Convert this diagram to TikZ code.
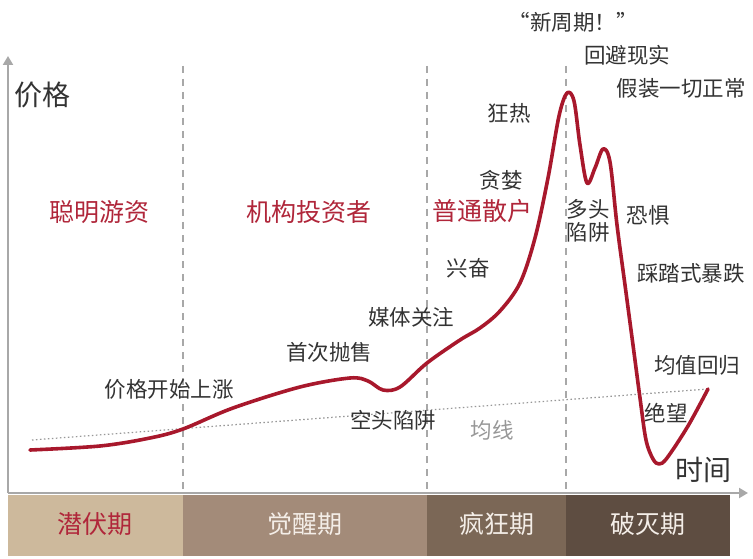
\documentclass[tikz,border=0pt]{standalone}
\usepackage{fontspec}
\setmainfont{Noto Sans CJK SC}
\usetikzlibrary{arrows.meta}
\definecolor{curvered}{HTML}{A8182C}
\definecolor{labred}{HTML}{B0263A}
\definecolor{txt}{HTML}{333333}
\definecolor{axisgray}{HTML}{A8A8A8}
\definecolor{bandA}{HTML}{CDB99C}
\definecolor{bandB}{HTML}{A38B79}
\definecolor{bandC}{HTML}{7B6756}
\definecolor{bandD}{HTML}{5E4D41}
\definecolor{bandtxt}{HTML}{F4EEE8}
\tikzset{
  lab/.style={text=txt, font=\fontsize{21.5}{23.5}\selectfont, inner sep=0pt},
  redlab/.style={text=labred, font=\fontsize{25}{27}\selectfont, inner sep=0pt},
  axislab/.style={text=txt, font=\fontsize{28}{30}\selectfont, inner sep=0pt},
  bandlab/.style={text=bandtxt, font=\fontsize{25}{27}\selectfont, inner sep=0pt},
  phase/.style={draw=axisgray, line width=1.2pt, dash pattern=on 7pt off 6pt},
  axisline/.style={draw=axisgray, line width=2pt, -{Triangle[width=10pt,length=9pt]}},
}
\begin{document}
\begin{tikzpicture}[x=1pt,y=-1pt]
\useasboundingbox (0,0) rectangle (753,559);
\fill[white] (0,0) rectangle (753,559);
% bands
\fill[bandA] (8,495) rectangle (183,556);
\fill[bandB] (183,495) rectangle (427,556);
\fill[bandC] (427,495) rectangle (566,556);
\fill[bandD] (566,495) rectangle (730,556);
\node[bandlab, text=labred] (p1) at (95,524) {潜伏期};
\node[bandlab] (p2) at (305,524) {觉醒期};
\node[bandlab] (p3) at (497,524) {疯狂期};
\node[bandlab] (p4) at (648,524) {破灭期};
% axes
\coordinate (o) at (8,493);
\coordinate (ytop) at (8,56);
\coordinate (xend) at (748,493);
\draw[axisline] (o) -- (ytop);
\draw[axisline] (o) -- (xend);
% phase dividers
\coordinate (d1t) at (183,66); \coordinate (d1b) at (183,493);
\coordinate (d2t) at (427,66); \coordinate (d2b) at (427,493);
\coordinate (d3t) at (566,66); \coordinate (d3b) at (566,493);
\draw[phase] (d1t) -- (d1b);
\draw[phase] (d2t) -- (d2b);
\draw[phase] (d3t) -- (d3b);
% mean line
\coordinate (m1) at (32,440);
\coordinate (m2) at (708,389);
\draw[axisgray!90!black, line width=1.2pt, dash pattern=on 1.5pt off 2.5pt] (m1) -- (m2);
% price curve
\draw[curvered, line width=3.6pt, line cap=round, line join=round]
  plot[smooth, tension=0.55] coordinates {
  (30,450) (100,446) (150,438) (183,429) (233,408) (300,387) (350,378)
  (368,381) (383,390) (400,387) (427,363) (460,340) (480,328) (500,311)
  (520,283) (535,238) (548,178) (559,116) (567,93) (574,101) (580,145)
  (587,183) (595,168) (603,149) (610,162) (617,225) (625,285) (633,345)
  (640,398) (646,440) (653,459) (659,464) (667,458) (688,426) (708,389)};
% labels
\node[axislab] (yl) at (42,95) {价格};
\node[axislab] (xl) at (703,470) {时间};
\node[redlab] (r1) at (99,212) {聪明游资};
\node[redlab] (r2) at (309,212) {机构投资者};
\node[redlab] (r3) at (482,211) {普通散户};
\node[lab] (t1) at (169,389) {价格开始上涨};
\node[lab] (t2) at (329,352) {首次抛售};
\node[lab] (t3) at (411,317) {媒体关注};
\node[lab] (t4) at (393,420) {空头陷阱};
\node[lab, text=axisgray!90!black] (t5) at (492,430) {均线};
\node[lab] (t6) at (468,268) {兴奋};
\node[lab] (t7) at (501,180) {贪婪};
\node[lab] (t8) at (509,113) {狂热};
\node[lab] (t9) at (573,22) {“新周期！”};
\node[lab] (t10) at (627,55) {回避现实};
\node[lab] (t11) at (681,88) {假装一切正常};
\node[lab, align=center] (t12) at (588,221) {多头\\陷阱};
\node[lab] (t13) at (648,215) {恐惧};
\node[lab] (t14) at (691,273) {踩踏式暴跌};
\node[lab] (t15) at (697,365) {均值回归};
\node[lab] (t16) at (666,413) {绝望};
\end{tikzpicture}
\end{document}
